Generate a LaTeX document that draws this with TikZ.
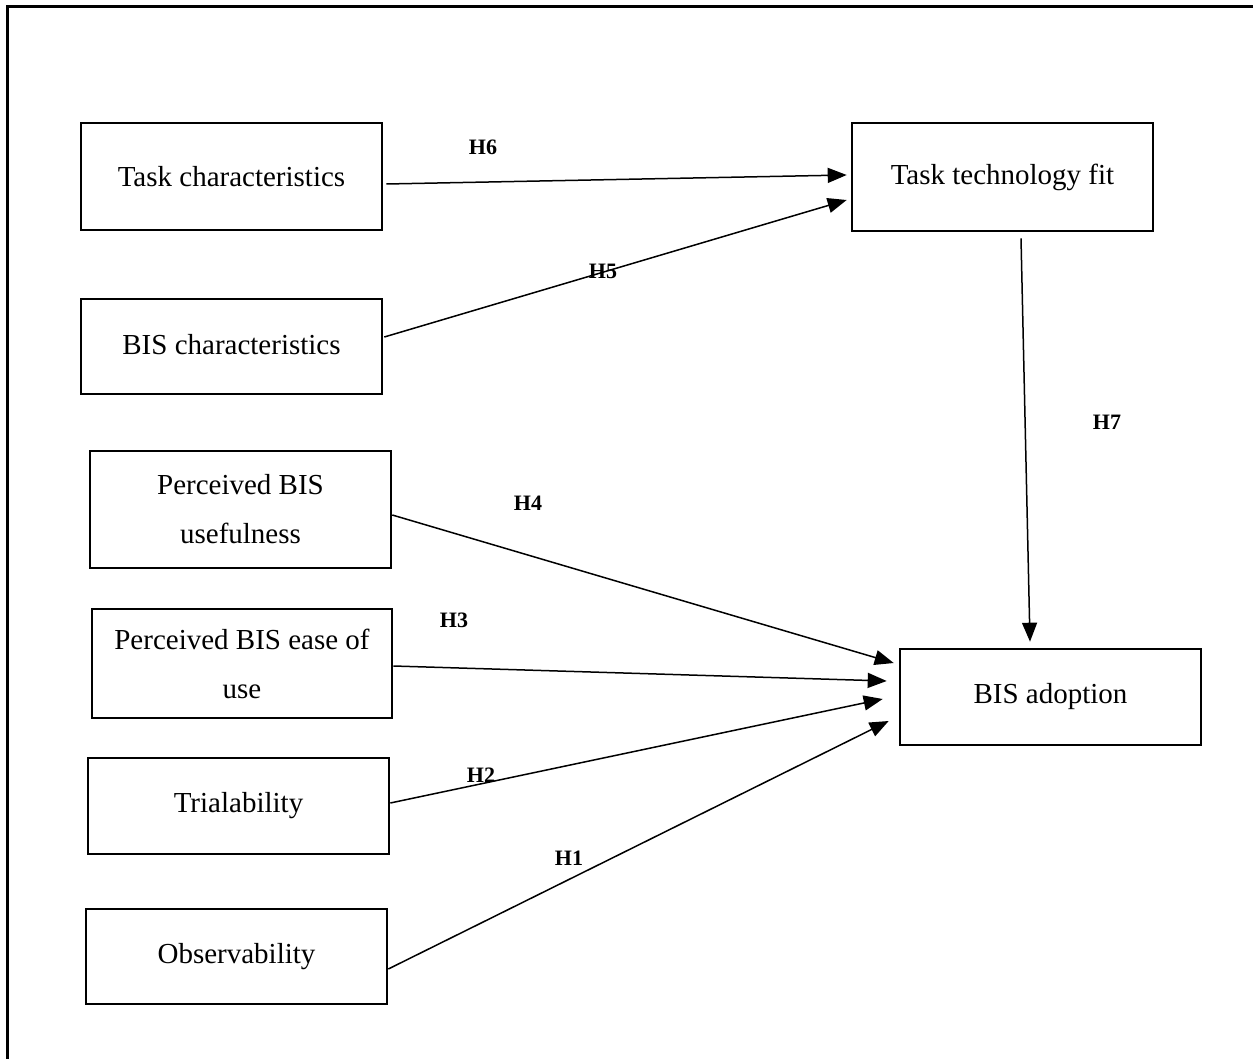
\documentclass[tikz,border=0pt]{standalone}
\usepackage{fontspec}
\setmainfont{Liberation Serif}
\usetikzlibrary{calc,arrows.meta}

\tikzset{
  construct/.style={draw, line width=2.6pt, inner sep=0pt, align=center,
    font=\fontsize{29}{49}\selectfont},
  link/.style={line width=1.5pt, -{Triangle[length=19pt,width=15pt]}},
  hyp/.style={font=\fontsize{22}{24}\bfseries, inner sep=0pt},
}

\begin{document}
\begin{tikzpicture}[x=1pt,y=-1pt]
  \useasboundingbox (0,0) rectangle (1253,1059);
  % open frame: top and left edges only
  \draw[line width=3pt] (7,1059) -- (7,7) -- (1253,7);

  % exogenous constructs
  \node[construct, minimum width=301pt, minimum height=107pt] (tc)  at (231.5,176.5) {Task characteristics};
  \node[construct, minimum width=301pt, minimum height=95pt]  (bc)  at (231.5,346.5) {\raisebox{4pt}{BIS characteristics}};
  \node[construct, minimum width=301pt, minimum height=117pt] (pbu) at (240.5,509.5) {Perceived BIS\\usefulness};
  \node[construct, minimum width=300pt, minimum height=109pt] (pbe) at (242,663.5)   {Perceived BIS ease of\\use};
  \node[construct, minimum width=301pt, minimum height=96pt]  (tri) at (238.5,806)   {Trialability};
  \node[construct, minimum width=301pt, minimum height=95pt]  (obs) at (236.5,956.5) {\raisebox{2pt}{Observability}};

  % endogenous constructs
  \node[construct, minimum width=301pt, minimum height=108pt] (ttf) at (1002.5,177) {Task technology fit};
  \node[construct, minimum width=301pt, minimum height=96pt]  (ba)  at (1050.5,697) {\raisebox{3pt}{BIS adoption}};

  % hypothesised paths
  \draw[link] ($(tc.east)+(3,7.5)$)   -- ($(ttf.west)+(-4,-2)$);
  \draw[link] ($(bc.east)+(1,-9.5)$)  -- ($(ttf.west)+(-4,23)$);
  \draw[link] ($(ttf.south)+(18.5,6)$) -- ($(ba.north)+(-20.5,-6)$);
  \draw[link] ($(pbu.east)+(0,5.5)$)  -- ($(ba.west)+(-5,-34)$);
  \draw[link] ($(pbe.east)+(0,2.5)$)  -- ($(ba.west)+(-12,-16)$);
  \draw[link] ($(tri.east)+(0,-3)$)   -- ($(ba.west)+(-16,2)$);
  \draw[link] ($(obs.east)+(0,12.5)$) -- ($(ba.west)+(-10,24)$);

  % hypothesis labels
  \node[hyp] (h6) at (483,147)  {H6};
  \node[hyp] (h5) at (603,271)  {H5};
  \node[hyp] (h7) at (1107,422) {H7};
  \node[hyp] (h4) at (528,503)  {H4};
  \node[hyp] (h3) at (454,620)  {H3};
  \node[hyp] (h2) at (481,775)  {H2};
  \node[hyp] (h1) at (569,858)  {H1};
\end{tikzpicture}
\end{document}
